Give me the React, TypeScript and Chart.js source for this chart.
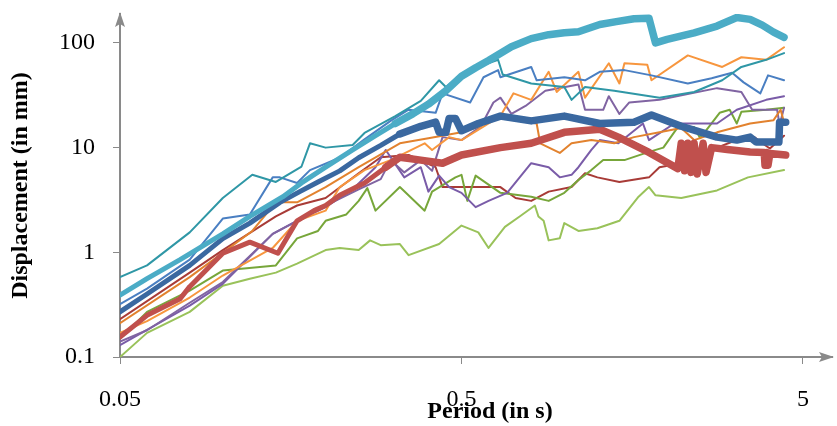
import React, { useEffect, useRef } from "react";
import { Chart, registerables } from "chart.js";

Chart.register(...registerables);

// ---------- data ----------
const xTickValues = [0.05, 0.5, 5];
const xTickLabels = ["0.05", "0.5", "5"];
const yTickValues = [0.1, 1, 10, 100];
const yTickLabels = ["0.1", "1", "10", "100"];
const xTitle = "Period (in s)";
const yTitle = "Displacement (in mm)";

// [period (s), displacement (mm)]
const cyanThick = [
  [0.05, 0.39], [0.06, 0.56], [0.075, 0.85], [0.1, 1.5], [0.12, 2.2], [0.15, 3.4], [0.17, 4.6],
  [0.2, 6.5], [0.24, 9.5], [0.28, 13], [0.32, 17], [0.36, 21], [0.4, 26], [0.45, 35], [0.5, 48],
  [0.55, 58], [0.6, 68], [0.7, 92], [0.8, 110], [0.9, 120], [1.0, 125], [1.1, 128], [1.27, 150],
  [1.42, 160], [1.6, 170], [1.77, 172], [1.85, 100], [2.0, 108], [2.4, 125], [2.8, 145], [3.2, 175],
  [3.5, 168], [3.8, 148], [4.1, 127], [4.4, 113],
];
const darkBlueThick = [
  [0.05, 0.27], [0.06, 0.4], [0.08, 0.75], [0.1, 1.35], [0.12, 1.9], [0.147, 3.0], [0.168, 3.8],
  [0.19, 4.7], [0.22, 6.0], [0.25, 8.0], [0.29, 10.5], [0.33, 13.5], [0.38, 16], [0.42, 17.5],
  [0.43, 14], [0.45, 14], [0.46, 19], [0.48, 19], [0.5, 14.5], [0.56, 17], [0.65, 20], [0.8, 18],
  [1.0, 20], [1.27, 17], [1.6, 17.5], [1.8, 20.5], [2.2, 16], [2.8, 12.6], [3.2, 11.8], [3.5, 12.6],
  [3.65, 11.3], [4.25, 11.3], [4.27, 17.5], [4.45, 17.5],
];
const redThick = [
  [0.05, 0.155], [0.06, 0.25], [0.075, 0.36], [0.08, 0.47], [0.1, 0.98], [0.12, 1.25], [0.145, 0.98],
  [0.165, 2.0], [0.185, 2.5], [0.2, 2.8], [0.22, 3.5], [0.26, 4.6], [0.3, 6.5], [0.33, 8.1],
  [0.38, 7.6], [0.44, 7.1], [0.5, 8.5], [0.65, 10], [0.8, 11], [1.0, 14], [1.27, 15], [1.44, 12.6],
  [1.77, 9], [2.15, 6.3], [2.2, 11], [2.25, 6], [2.3, 11], [2.35, 5.8], [2.4, 11], [2.45, 5.6],
  [2.55, 11], [2.6, 5.8], [2.7, 10], [3.0, 9.6], [3.5, 9.1], [3.85, 9], [3.87, 6.8], [3.92, 9],
  [3.95, 6.8], [4.0, 8.8], [4.45, 8.5],
];
const tealThin = [
  [0.05, 0.58], [0.06, 0.75], [0.08, 1.55], [0.1, 3.3], [0.122, 5.5], [0.143, 4.7], [0.17, 6.6],
  [0.18, 11], [0.2, 10], [0.24, 10.6], [0.26, 13.8], [0.32, 20], [0.38, 28], [0.43, 44], [0.45, 38],
  [0.5, 50], [0.56, 59], [0.64, 69], [0.66, 50], [0.8, 41], [1.0, 38], [1.05, 28.6], [1.15, 38],
  [1.4, 35], [1.9, 30], [2.4, 34], [2.9, 44], [3.3, 59], [3.9, 69], [4.4, 80],
];
const blueThin = [
  [0.05, 0.32], [0.06, 0.45], [0.08, 0.85], [0.1, 2.1], [0.12, 2.3], [0.14, 5.2], [0.147, 5.2],
  [0.165, 4.6], [0.18, 6.1], [0.22, 8], [0.26, 12], [0.31, 18], [0.35, 23], [0.42, 21.5], [0.44, 33],
  [0.53, 27], [0.58, 47], [0.64, 55], [0.65, 47], [0.8, 59], [0.83, 44], [1.0, 47], [1.15, 44],
  [1.27, 53], [1.5, 55], [1.8, 49], [2.3, 41], [2.7, 46], [3.1, 52], [3.35, 42], [3.75, 33],
  [3.95, 49], [4.4, 44],
];
const orangeThin = [
  [0.05, 0.17], [0.06, 0.22], [0.08, 0.37], [0.1, 0.6], [0.14, 1.1], [0.165, 2.0], [0.2, 2.5],
  [0.22, 4.2], [0.26, 6.1], [0.31, 7.6], [0.39, 11], [0.41, 9.5], [0.46, 12.6], [0.5, 11.8],
  [0.65, 20], [0.71, 33], [0.8, 28.6], [0.9, 53], [0.95, 34], [1.1, 53], [1.15, 30], [1.35, 64],
  [1.45, 41], [1.5, 64], [1.75, 62], [1.8, 44], [2.3, 76], [2.9, 59], [3.3, 73], [3.9, 69], [4.4, 91],
];
const darkOrangeThin = [
  [0.05, 0.21], [0.08, 0.58], [0.122, 1.6], [0.143, 3.0], [0.165, 3.0], [0.2, 4.2], [0.25, 6.5],
  [0.33, 11], [0.4, 12.3], [0.5, 14], [0.56, 15.7], [0.62, 19.6], [0.83, 17], [0.85, 11],
  [0.97, 8.9], [1.05, 11], [1.2, 11.8], [1.4, 11], [1.6, 12.6], [1.9, 14], [2.2, 15.4], [2.4, 11.8],
  [2.8, 14], [3.5, 17], [4.1, 18.3], [4.3, 23], [4.4, 17.5],
];
const purpleUpper = [
  [0.05, 0.14], [0.06, 0.18], [0.08, 0.33], [0.1, 0.52], [0.14, 1.5], [0.165, 2.0], [0.2, 2.8],
  [0.25, 4.0], [0.29, 5.0], [0.31, 7.6], [0.34, 5.8], [0.38, 7.6], [0.41, 6], [0.44, 12.6],
  [0.5, 11.8], [0.57, 16], [0.62, 27], [0.65, 30], [0.7, 21], [0.77, 25], [0.88, 35], [1.1, 40],
  [1.15, 23], [1.3, 23], [1.35, 31], [1.45, 21], [1.55, 27], [1.9, 28.6], [2.8, 37], [3.3, 34],
  [3.55, 23], [4.2, 23], [4.27, 16.4], [4.4, 24],
];
const purpleLower = [
  [0.05, 0.13], [0.08, 0.31], [0.1, 0.5], [0.14, 1.5], [0.165, 2.0], [0.2, 2.7], [0.24, 4],
  [0.28, 6.5], [0.3, 9.5], [0.34, 5.2], [0.38, 6.5], [0.4, 3.8], [0.43, 5.4], [0.46, 4.2],
  [0.5, 3.7], [0.55, 2.7], [0.6, 3.1], [0.68, 3.7], [0.8, 7.1], [0.9, 6.5], [0.97, 5.2], [1.05, 5.5],
  [1.1, 6.5], [1.2, 9.5], [1.27, 11.8], [1.44, 11], [1.7, 17], [1.77, 11.8], [2.1, 17], [2.8, 17],
  [3.2, 23], [3.9, 28.6], [4.4, 31],
];
const greenThin = [
  [0.05, 0.15], [0.06, 0.27], [0.08, 0.43], [0.1, 0.67], [0.143, 0.75], [0.165, 1.36], [0.19, 1.6],
  [0.2, 2.0], [0.23, 2.3], [0.25, 3.1], [0.265, 4.1], [0.28, 2.5], [0.33, 4.2], [0.39, 2.5],
  [0.41, 3.8], [0.48, 5.2], [0.5, 5.5], [0.52, 3.1], [0.55, 5.4], [0.65, 3.7], [0.8, 3.4], [0.9, 3.1],
  [1.0, 3.7], [1.1, 4.9], [1.2, 6.1], [1.3, 7.6], [1.5, 7.6], [1.77, 9.1], [1.95, 10], [2.15, 15.7],
  [2.4, 15.7], [2.5, 12.3], [2.85, 21.5], [3.05, 23], [3.2, 17], [3.3, 22], [3.9, 23], [4.4, 24],
];
const lightGreenThin = [
  [0.05, 0.1], [0.06, 0.17], [0.08, 0.27], [0.1, 0.48], [0.12, 0.56], [0.143, 0.64], [0.165, 0.78],
  [0.2, 1.05], [0.22, 1.1], [0.25, 1.05], [0.27, 1.3], [0.29, 1.17], [0.33, 1.2], [0.35, 0.94],
  [0.43, 1.2], [0.5, 1.8], [0.56, 1.55], [0.6, 1.1], [0.67, 1.75], [0.74, 2.2], [0.82, 2.8],
  [0.84, 2.2], [0.87, 2.0], [0.9, 1.3], [0.97, 1.36], [1.0, 1.9], [1.1, 1.6], [1.25, 1.7],
  [1.45, 2.0], [1.65, 3.4], [1.77, 4.2], [1.85, 3.5], [2.2, 3.3], [2.8, 3.9], [3.45, 5.2], [4.4, 6.1],
];
const darkRedThin = [
  [0.05, 0.23], [0.08, 0.64], [0.1, 1.05], [0.143, 2.2], [0.165, 2.8], [0.2, 3.3], [0.25, 5.7],
  [0.29, 8.1], [0.35, 8.5], [0.42, 6.5], [0.44, 4.2], [0.5, 4.2], [0.65, 4.2], [0.72, 3.3],
  [0.8, 3.1], [0.9, 3.8], [1.05, 4.2], [1.15, 5.7], [1.25, 5.2], [1.45, 4.7], [1.77, 5.2],
  [1.9, 6.5], [2.2, 7.1], [2.8, 10], [3.3, 12.3], [3.6, 12.6], [3.8, 11], [4.0, 9.8], [4.4, 13],
];

// ---------- styles ----------
const FONT = "'Liberation Serif', 'Times New Roman', serif";
const AXIS = "#8a8a8a";

const seriesList = [
  { data: cyanThick, color: "#4BACC6", thick: true },
  { data: darkBlueThick, color: "#3A68A0", thick: true },
  { data: redThick, color: "#C0504D", thick: true },
  { data: tealThin, color: "#2F97A6", thick: false },
  { data: blueThin, color: "#4A7FC2", thick: false },
  { data: orangeThin, color: "#F7963E", thick: false },
  { data: darkOrangeThin, color: "#E2822E", thick: false },
  { data: purpleUpper, color: "#8064A2", thick: false },
  { data: purpleLower, color: "#7A5CA8", thick: false },
  { data: greenThin, color: "#77A63A", thick: false },
  { data: lightGreenThin, color: "#99C25A", thick: false },
  { data: darkRedThin, color: "#A83B37", thick: false },
];

const arrowsPlugin = {
  id: "axisArrows",
  afterDraw(chart: any) {
    const { ctx, chartArea: a } = chart;
    ctx.save();
    ctx.fillStyle = AXIS;
    // y arrow (up)
    ctx.beginPath();
    ctx.moveTo(a.left, a.top - 2);
    ctx.lineTo(a.left - 5, a.top + 13);
    ctx.lineTo(a.left, a.top + 10);
    ctx.lineTo(a.left + 5, a.top + 13);
    ctx.closePath();
    ctx.fill();
    // x arrow (right)
    ctx.beginPath();
    ctx.moveTo(a.right + 2, a.bottom);
    ctx.lineTo(a.right - 13, a.bottom - 5);
    ctx.lineTo(a.right - 10, a.bottom);
    ctx.lineTo(a.right - 13, a.bottom + 5);
    ctx.closePath();
    ctx.fill();
    // x title
    ctx.fillStyle = "#000";
    ctx.font = `bold 24px ${FONT}`;
    ctx.textAlign = "center";
    ctx.textBaseline = "middle";
    ctx.fillText(xTitle, a.left + 370, a.bottom + 55);
    ctx.restore();
  },
};

export default function App() {
  const ref = useRef<HTMLCanvasElement | null>(null);

  useEffect(() => {
    if (!ref.current) return;
    const datasets = seriesList.map((s) => ({
      data: s.data.map(([x, y]) => ({ x, y })),
      borderColor: s.color,
      backgroundColor: s.color,
      borderWidth: s.thick ? 7 : 2,
      borderJoinStyle: "round" as const,
      borderCapStyle: "round" as const,
      pointRadius: 0,
      tension: 0,
      fill: false,
      segment: s.thick
        ? { borderWidth: (c: any) => (c.p0.parsed.x < 0.3 ? 5 : 7.5) }
        : undefined,
    }));

    const chart = new Chart(ref.current, {
      type: "line",
      data: { datasets },
      options: {
        responsive: false,
        animation: false,
        devicePixelRatio: 1,
        parsing: false as any,
        layout: { padding: { top: 14, right: 5, left: 0, bottom: 0 } },
        plugins: { legend: { display: false }, tooltip: { enabled: false } },
        scales: {
          x: {
            type: "logarithmic",
            min: 0.05,
            max: 6.08,
            position: "bottom",
            afterBuildTicks: (s: any) => {
              s.ticks = xTickValues.map((v) => ({ value: v }));
            },
            afterFit: (s: any) => {
              s.height = 69;
              s.paddingLeft = 0;
              s.paddingRight = 0;
            },
            ticks: {
              autoSkip: false,
              maxRotation: 0,
              minRotation: 0,
              padding: 21,
              color: "#000",
              font: { family: FONT, size: 24 },
              callback: (v: any) => {
                const i = xTickValues.indexOf(Number(v));
                return i >= 0 ? xTickLabels[i] : "";
              },
            },
            grid: { drawOnChartArea: false, drawTicks: true, tickLength: 7, color: AXIS, lineWidth: 1 },
            border: { display: true, color: AXIS, width: 2 },
          },
          y: {
            type: "logarithmic",
            min: 0.1,
            max: 189,
            afterBuildTicks: (s: any) => {
              s.ticks = yTickValues.map((v) => ({ value: v }));
            },
            afterFit: (s: any) => {
              s.width = 120;
              s.paddingTop = 0;
              s.paddingBottom = 0;
            },
            title: {
              display: true,
              text: yTitle,
              color: "#000",
              font: { family: FONT, size: 24, weight: "bold" },
              padding: { top: 6, bottom: 0 },
            },
            ticks: {
              autoSkip: false,
              padding: 18,
              color: "#000",
              font: { family: FONT, size: 24 },
              callback: (v: any) => {
                const i = yTickValues.indexOf(Number(v));
                return i >= 0 ? yTickLabels[i] : "";
              },
            },
            grid: { drawOnChartArea: false, drawTicks: true, tickLength: 7, color: AXIS, lineWidth: 1 },
            border: { display: true, color: AXIS, width: 2 },
          },
        },
      },
      plugins: [arrowsPlugin],
    });
    return () => chart.destroy();
  }, []);

  return (
    <div style={{ position: "fixed", left: 0, top: 0, width: 837, height: 426, background: "#fff" }}>
      <canvas ref={ref} width={837} height={426} style={{ display: "block" }} />
    </div>
  );
}
